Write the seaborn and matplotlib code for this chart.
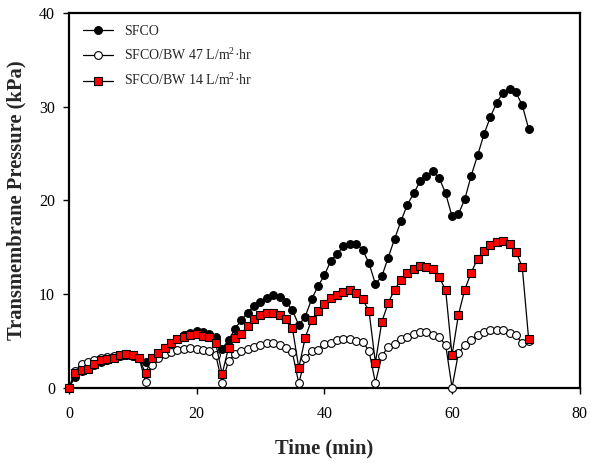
import matplotlib
matplotlib.use("Agg")
import matplotlib.pyplot as plt
import numpy as np
import pandas as pd
import seaborn as sns

# Time axis (min), one reading per minute
time_min = list(range(0, 73))

# Transmembrane pressure (kPa), no backwash
sfco = [0, 1.2, 1.8, 2.1, 2.5, 2.8, 3.0, 3.2, 3.4, 3.5, 3.4, 3.2, 2.8,
        3.1, 3.6, 4.2, 4.7, 5.2, 5.6, 5.9, 6.1, 6.0, 5.8, 5.45, 4.2,
        5.1, 6.3, 7.25, 8.05, 8.75, 9.2, 9.6, 9.95, 9.7, 9.2, 8.3, 6.7,
        7.6, 9.45, 10.85, 12.0, 13.55, 14.3, 15.1, 15.4, 15.4, 14.75, 13.3, 11.1,
        11.9, 13.9, 15.9, 17.8, 19.55, 20.75, 22.05, 22.65, 23.1, 22.4, 20.75, 18.3,
        18.55, 20.15, 22.65, 24.8, 27.05, 28.9, 30.45, 31.5, 31.85, 31.55, 30.15, 27.65]

# Backwash at 47 L/m2.hr
sfco_bw47 = [0, 1.8, 2.6, 2.8, 3.0, 3.2, 3.3, 3.4, 3.5, 3.5, 3.4, 3.2, 0.67,
             2.45, 3.2, 3.6, 3.85, 4.05, 4.2, 4.3, 4.2, 4.05, 3.95, 3.5, 0.55,
             2.9, 3.6, 3.95, 4.2, 4.4, 4.6, 4.85, 4.85, 4.6, 4.3, 3.8, 0.5,
             3.15, 3.95, 4.1, 4.7, 4.8, 5.1, 5.2, 5.2, 5.05, 4.95, 3.95, 0.55,
             3.4, 4.4, 4.65, 5.2, 5.4, 5.75, 6.0, 6.0, 5.65, 5.4, 4.6, 0.05,
             3.7, 4.6, 5.1, 5.65, 6.0, 6.15, 6.15, 6.15, 5.9, 5.65, 4.75, 5.0]

# Backwash at 14 L/m2.hr
sfco_bw14 = [0, 1.55, 1.9, 2.0, 2.6, 3.0, 3.05, 3.25, 3.5, 3.6, 3.5, 3.15, 1.55,
             3.2, 3.7, 4.3, 4.75, 5.2, 5.45, 5.65, 5.8, 5.55, 5.4, 4.75, 1.5,
             4.3, 5.35, 5.8, 6.6, 7.4, 7.8, 7.95, 8.0, 7.8, 7.4, 6.4, 2.15,
             5.35, 7.25, 8.2, 9.0, 9.65, 9.9, 10.25, 10.5, 10.1, 9.45, 8.2, 2.7,
             7.05, 9.05, 10.5, 11.5, 12.25, 12.7, 13.05, 12.9, 12.7, 11.8, 10.45, 3.5,
             7.8, 10.5, 12.3, 13.8, 14.65, 15.25, 15.55, 15.7, 15.35, 14.55, 12.9, 5.2]

labels = ["SFCO", "SFCO/BW 47 L/m$^2$\u00b7hr", "SFCO/BW 14 L/m$^2$\u00b7hr"]

sns.set_style("ticks")
plt.rcParams["font.family"] = ["Liberation Serif", "DejaVu Serif"]
plt.rcParams["mathtext.fontset"] = "custom"
plt.rcParams["mathtext.rm"] = "Liberation Serif"

fig = plt.figure(figsize=(5.94, 4.63), dpi=100)
ax = fig.add_axes([0.116, 0.162, 0.860, 0.810])

styles = [
    dict(marker="o", mfc="black", mec="black", ms=5.6),
    dict(marker="o", mfc="white", mec="black", ms=5.6),
    dict(marker="s", mfc="#ff0000", mec="black", ms=5.2),
]

for series, label, st in zip([sfco, sfco_bw47, sfco_bw14], labels, styles):
    df = pd.DataFrame({"Time": time_min, "TMP": series})
    sns.lineplot(data=df, x="Time", y="TMP", ax=ax, color="black", lw=0.9,
                 label=label, marker=st["marker"], markerfacecolor=st["mfc"],
                 markeredgecolor=st["mec"], markersize=st["ms"],
                 markeredgewidth=0.8, clip_on=False, zorder=3)

ax.set_xlim(0, 80)
ax.set_ylim(0, 40)
ax.set_xticks([0, 20, 40, 60, 80])
ax.set_yticks([0, 10, 20, 30, 40])
ax.tick_params(direction="out", length=4, width=1, labelsize=11.5,
               colors="black")
ax.tick_params(axis="x", pad=9)
ax.tick_params(axis="y", pad=6)
for s in ax.spines.values():
    s.set_visible(True)
    s.set_linewidth(1.6)
    s.set_color("black")

ax.set_xlabel("Time (min)", fontsize=14.8, fontweight="bold", labelpad=12)
ax.set_ylabel("Transmembrane Pressure (kPa)", fontsize=14.8, fontweight="bold",
              labelpad=9)

leg = ax.legend(loc="upper left", frameon=False, fontsize=10,
                handlelength=2.2, borderaxespad=0.6, labelspacing=0.62,
                bbox_to_anchor=(0.0, 1.005))

fig.savefig("out.png", dpi=100)
